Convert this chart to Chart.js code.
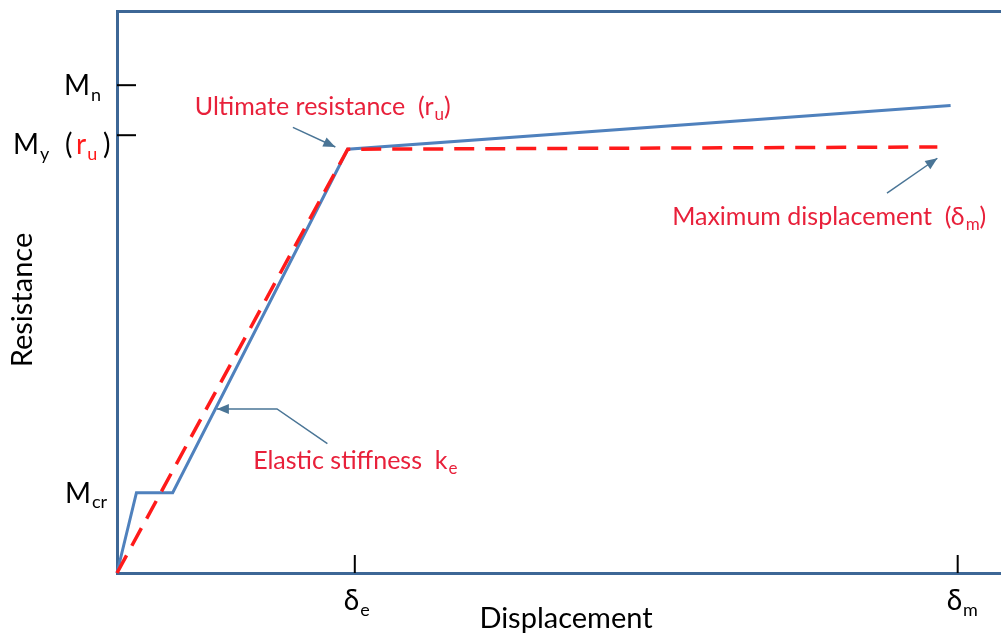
<!DOCTYPE html>
<html>
<head>
<meta charset="utf-8">
<script src="https://cdn.jsdelivr.net/npm/chart.js@4.4.1/dist/chart.umd.min.js"></script>
<style>
  html, body { margin: 0; padding: 0; background: #fff; }
  #wrap { width: 1001px; height: 637px; position: relative; }
</style>
</head>
<body>
<div id="wrap"><canvas id="chart"></canvas></div>
<script>
// --- Data (displacement / resistance, arbitrary units 0-100) ---
const bilinearX = [0, 2.2, 6.3, 26.1, 94.3];
const bilinearY = [0, 14.3, 14.3, 75.4, 83.2];
const idealX = [0, 26.1, 92.8];
const idealY = [0, 75.4, 75.8];

const xTickValues = [26.9, 95.1];
const xTickSubs = ['e', 'm'];
const yTickValues = [86.8, 77.9];   // Mn, My
const yCrackValue = 14.3;           // Mcr (label only)

// --- Styles ---
const FRAME = '#3d6796';
const BLUE = '#4f81bd';
const RED = '#ff1a1a';
const NOTE_RED = '#e8203a';
const ARROW = '#4a7596';
const FONT = 'Lato, "Open Sans", sans-serif';

function textSub(ctx, x, y, base, sub, size, baseColor, subColor) {
  ctx.fillStyle = baseColor;
  ctx.font = `${size}px ${FONT}`;
  ctx.fillText(base, x, y);
  const w = ctx.measureText(base).width;
  ctx.fillStyle = subColor || baseColor;
  ctx.font = `${Math.round(size * 0.66)}px ${FONT}`;
  ctx.fillText(sub, x + w + 1, y + size * 0.2);
  return w + 1 + ctx.measureText(sub).width;
}

function arrow(ctx, pts, color) {
  ctx.save();
  ctx.strokeStyle = color;
  ctx.fillStyle = color;
  ctx.lineWidth = 1.5;
  ctx.beginPath();
  pts.forEach(([x, y], i) => (i ? ctx.lineTo(x, y) : ctx.moveTo(x, y)));
  ctx.stroke();
  const [x1, y1] = pts[pts.length - 2];
  const [x2, y2] = pts[pts.length - 1];
  const a = Math.atan2(y2 - y1, x2 - x1);
  ctx.beginPath();
  ctx.moveTo(x2, y2);
  ctx.lineTo(x2 - 12 * Math.cos(a) + 5 * Math.sin(a), y2 - 12 * Math.sin(a) - 5 * Math.cos(a));
  ctx.lineTo(x2 - 12 * Math.cos(a) - 5 * Math.sin(a), y2 - 12 * Math.sin(a) + 5 * Math.cos(a));
  ctx.closePath();
  ctx.fill();
  ctx.restore();
}

// annotation anchors, in data units
const notes = {
  ultimate: { text: [8.8, 81.5], arrow: [[19.9, 79.3], [24.7, 75.8]] },
  maximum:  { text: [62.8, 62.0], arrow: [[87.1, 67.6], [92.8, 73.8]] },
  elastic:  { text: [15.4, 18.5], arrow: [[23.8, 23.0], [18.1, 29.2], [11.3, 29.2]] },
};

const sketch = {
  id: 'sketch',
  afterDatasetsDraw(chart) {
    const { ctx, chartArea: area, scales: { x, y } } = chart;
    const px = (v) => x.getPixelForValue(v);
    const py = (v) => y.getPixelForValue(v);
    ctx.save();
    ctx.textBaseline = 'alphabetic';

    // tick marks (inward)
    ctx.strokeStyle = '#000';
    ctx.lineWidth = 2;
    xTickValues.forEach((v) => {
      ctx.beginPath();
      ctx.moveTo(px(v), area.bottom);
      ctx.lineTo(px(v), area.bottom - 18);
      ctx.stroke();
    });
    yTickValues.forEach((v) => {
      ctx.beginPath();
      ctx.moveTo(area.left, py(v));
      ctx.lineTo(area.left + 19, py(v));
      ctx.stroke();
    });

    // x tick labels
    xTickValues.forEach((v, i) => {
      textSub(ctx, px(v) - 11, area.bottom + 37, 'δ', xTickSubs[i], 28, '#000');
    });

    // y tick labels
    textSub(ctx, 64, py(yTickValues[0]) + 10, 'M', 'n', 28, '#000');
    let w = textSub(ctx, 13, py(yTickValues[1]) + 19, 'M', 'y', 28, '#000');
    ctx.font = `28px ${FONT}`;
    ctx.fillStyle = '#000';
    ctx.fillText('(', 65, py(yTickValues[1]) + 19);
    textSub(ctx, 76, py(yTickValues[1]) + 19, 'r', 'u', 28, RED);
    ctx.fillStyle = '#000';
    ctx.font = `28px ${FONT}`;
    ctx.fillText(')', 103, py(yTickValues[1]) + 19);
    textSub(ctx, 65, py(yCrackValue) + 10, 'M', 'cr', 28, '#000');

    // axis titles
    ctx.fillStyle = '#000';
    ctx.font = `29px ${FONT}`;
    ctx.textAlign = 'center';
    ctx.fillText('Displacement', 566, 628);
    ctx.save();
    ctx.translate(32, 300);
    ctx.rotate(-Math.PI / 2);
    ctx.fillText('Resistance', 0, 0);
    ctx.restore();
    ctx.textAlign = 'left';

    // annotations
    const nu = notes.ultimate;
    w = textSub(ctx, px(nu.text[0]), py(nu.text[1]), 'Ultimate resistance  (r', 'u', 25, NOTE_RED);
    ctx.font = `25px ${FONT}`;
    ctx.fillText(')', px(nu.text[0]) + w, py(nu.text[1]));
    arrow(ctx, nu.arrow.map(([a, b]) => [px(a), py(b)]), ARROW);

    const nm = notes.maximum;
    w = textSub(ctx, px(nm.text[0]), py(nm.text[1]), 'Maximum displacement  (δ', 'm', 25, NOTE_RED);
    ctx.font = `25px ${FONT}`;
    ctx.fillText(')', px(nm.text[0]) + w, py(nm.text[1]));
    arrow(ctx, nm.arrow.map(([a, b]) => [px(a), py(b)]), ARROW);

    const ne = notes.elastic;
    textSub(ctx, px(ne.text[0]), py(ne.text[1]), 'Elastic stiffness  k', 'e', 25, NOTE_RED);
    arrow(ctx, ne.arrow.map(([a, b]) => [px(a), py(b)]), ARROW);

    ctx.restore();
  },
};

const toPoints = (xs, ys) => xs.map((v, i) => ({ x: v, y: ys[i] }));

const frameAxis = {
  type: 'linear',
  min: 0,
  max: 100,
  grid: { display: false },
  ticks: { display: false },
  border: { display: true, color: FRAME, width: 3 },
};

new Chart(document.getElementById('chart'), {
  type: 'scatter',
  data: {
    datasets: [
      {
        label: 'Idealized',
        data: toPoints(idealX, idealY),
        showLine: true,
        borderColor: RED,
        borderWidth: 3.5,
        borderDash: [20, 11],
        pointRadius: 0,
        tension: 0,
        clip: false,
      },
      {
        label: 'Actual',
        data: toPoints(bilinearX, bilinearY),
        showLine: true,
        borderColor: BLUE,
        borderWidth: 3,
        pointRadius: 0,
        tension: 0,
        clip: false,
      },
    ],
  },
  options: {
    responsive: true,
    maintainAspectRatio: false,
    animation: false,
    layout: { padding: 0 },
    plugins: { legend: { display: false }, tooltip: { enabled: false } },
    scales: {
      x: { ...frameAxis, position: 'bottom', afterFit: (s) => { s.height = 64; } },
      x2: { ...frameAxis, position: 'top', afterFit: (s) => { s.height = 11; } },
      y: { ...frameAxis, position: 'left', afterFit: (s) => { s.width = 117; } },
    },
  },
  plugins: [sketch],
});
</script>
</body>
</html>
